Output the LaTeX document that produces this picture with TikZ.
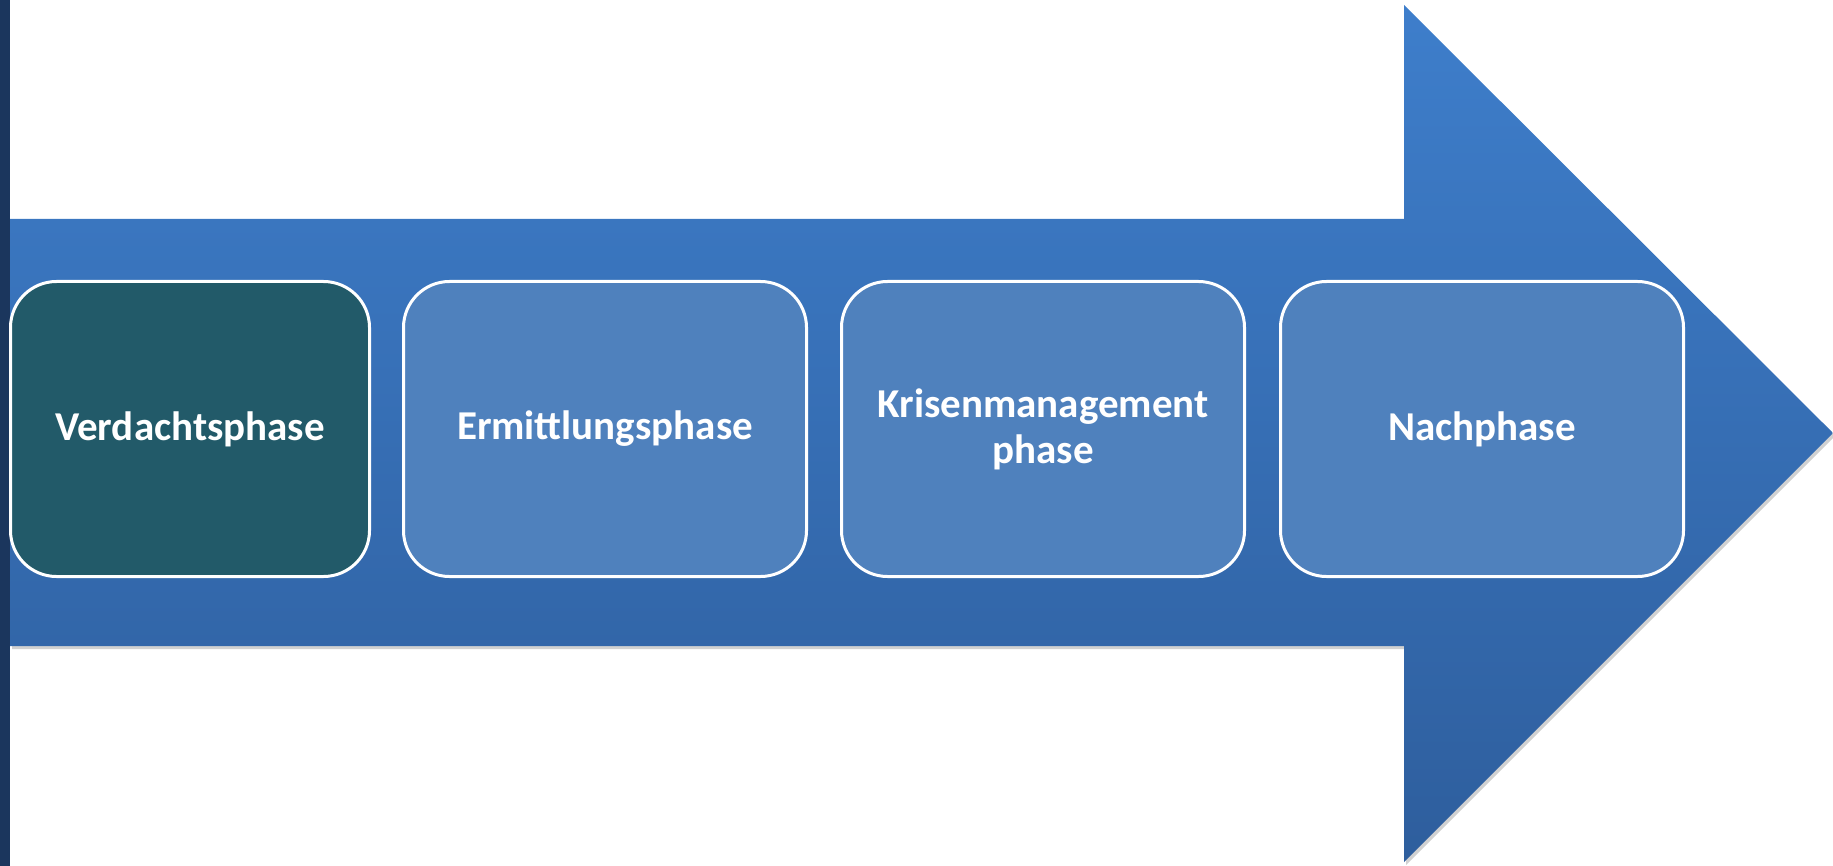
\documentclass[tikz,border=0pt]{standalone}
\usepackage{fontspec}
\setmainfont{Carlito}
\definecolor{strip}{HTML}{1B365D}
\definecolor{arrtop}{HTML}{3E7ECB}
\definecolor{arrbot}{HTML}{2E5E9D}
\definecolor{darkbox}{HTML}{225A69}
\definecolor{lightbox}{HTML}{4F81BD}
\tikzset{
  phasebox/.style={draw=white, line width=3pt, rounded corners=46pt,
    minimum height=295pt, align=center, text=white,
    font=\fontsize{41}{46}\selectfont\bfseries, inner sep=0pt},
}
\begin{document}
\begin{tikzpicture}[x=1pt,y=-1pt]
\useasboundingbox (0,0) rectangle (1833,866);
% shadow of arrow
\fill[black, opacity=0.18, shift={(2,3)}] (10,219) -- (1404,219) -- (1404,5) -- (1833,433) -- (1404,862) -- (1404,646) -- (10,646) -- cycle;
% arrow body
\shade[top color=arrtop, bottom color=arrbot]
  (10,219) -- (1404,219) -- (1404,5) -- (1833,433) -- (1404,862) -- (1404,646) -- (10,646) -- cycle;
% left strip
\fill[strip] (0,0) rectangle (10,866);
% phase boxes
\node[phasebox, fill=darkbox, minimum width=359pt] (p1) at (190,429) {Verdachtsphase};
\node[phasebox, fill=lightbox, minimum width=403pt] (p2) at (605,429) {Ermittlungsphase};
\node[phasebox, fill=lightbox, minimum width=403pt] (p3) at (1043,429) {Krisenmanagement\\phase};
\node[phasebox, fill=lightbox, minimum width=403pt] (p4) at (1482,429) {Nachphase};
\end{tikzpicture}
\end{document}
